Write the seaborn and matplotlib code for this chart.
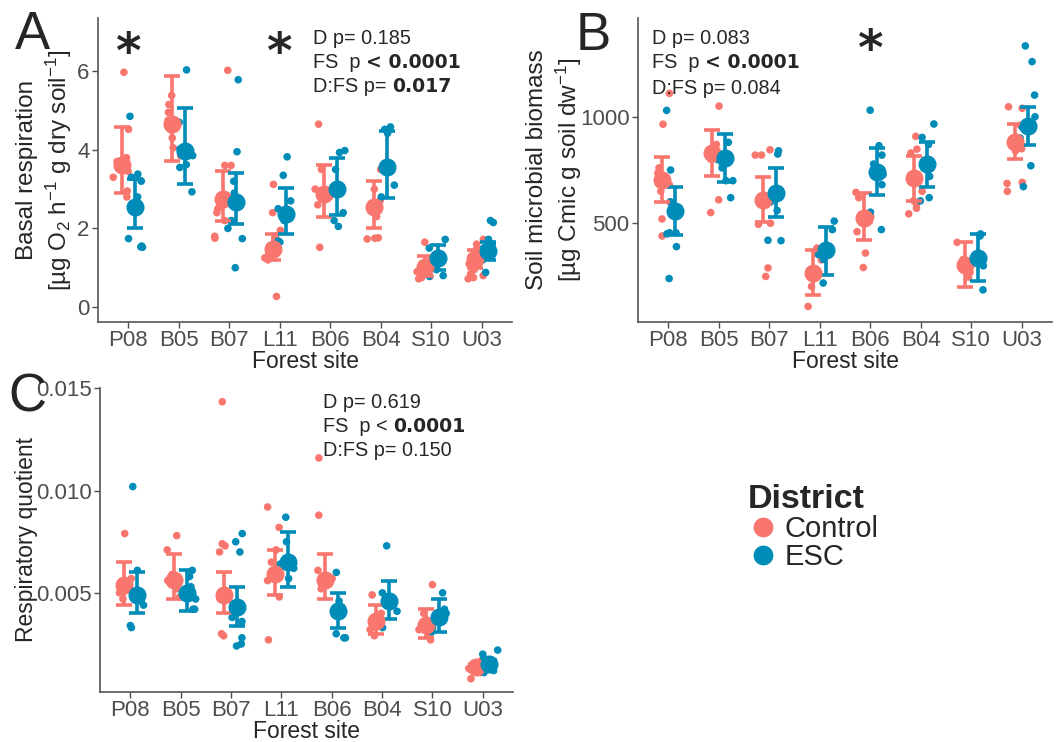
import matplotlib.pyplot as plt
import numpy as np
import pandas as pd
import seaborn as sns
from matplotlib.ticker import FormatStrFormatter


sites = ['P08', 'B05', 'B07', 'L11', 'B06', 'B04', 'S10', 'U03']
districts = ['Control', 'ESC']
palette = {'Control': '#F8766D', 'ESC': '#008CB8'}

# panel A - basal respiration, single samples per site
basal_control = [
    [5.97, 4.52, 3.8, 3.7, 3.55, 3.45, 3.3, 2.95, 2.8],
    [5.38, 5.15, 4.95, 4.75, 4.5, 4.3, 4.05, 3.85],
    [6.02, 3.6, 3.6, 2.5, 2.4, 2.2, 1.75, 1.8],
    [3.12, 2.4, 1.95, 1.8, 1.6, 1.45, 1.38, 1.25, 1.2, 0.27],
    [4.65, 3.5, 3.0, 2.8, 2.6, 1.52],
    [3.5, 3.0, 2.7, 2.3, 1.76, 1.73, 1.75],
    [1.65, 1.2, 1.1, 1.0, 0.9, 0.85, 0.75, 0.72, 0.78, 0.82],
    [1.72, 1.6, 1.5, 1.35, 1.2, 1.1, 0.95, 0.85, 0.75, 0.72, 0.8],
]
basal_esc = [
    [4.85, 3.38, 3.3, 3.2, 2.8, 1.74, 1.53, 1.52, 1.55],
    [6.03, 4.7, 4.02, 3.85, 3.62, 3.55, 2.93],
    [5.78, 3.95, 3.2, 2.9, 2.2, 2.0, 1.74, 1.0],
    [3.82, 3.35, 2.7, 2.5, 2.2, 1.68, 1.65],
    [3.98, 3.93, 3.5, 3.05, 2.4, 2.2, 2.05],
    [4.58, 4.52, 4.42, 3.5, 3.1, 2.8],
    [1.72, 1.5, 1.3, 1.2, 1.1, 0.95, 0.8, 0.78],
    [2.2, 2.15, 1.72, 1.6, 1.5, 1.4, 1.3, 1.2, 0.88],
]
basal_control_mean = [3.62, 4.65, 2.75, 1.47, 2.88, 2.55, 1.03, 1.22]
basal_control_low = [2.9, 3.72, 2.2, 1.2, 2.28, 2.02, 0.8, 1.0]
basal_control_high = [4.57, 5.87, 3.47, 1.85, 3.6, 3.2, 1.3, 1.45]
basal_esc_mean = [2.55, 3.98, 2.67, 2.37, 3.0, 3.55, 1.25, 1.42]
basal_esc_low = [2.0, 3.13, 2.1, 1.85, 2.35, 2.78, 0.95, 1.2]
basal_esc_high = [3.25, 5.05, 3.4, 3.03, 3.8, 4.48, 1.58, 1.65]

# panel B - soil microbial biomass
biomass_control = [
    [1110, 965, 760, 735, 680, 650, 600, 520, 440],
    [1050, 870, 830, 800, 610, 550],
    [845, 820, 820, 600, 500, 495, 290, 250],
    [383, 360, 328, 250, 203, 109],
    [645, 620, 530, 510, 460, 360, 292],
    [908, 848, 830, 650, 606, 590, 570, 544],
    [410, 330, 300, 270, 247],
    [1047, 1040, 960, 850, 840, 692, 650, 687],
]
biomass_esc = [
    [1030, 750, 600, 455, 455, 450, 390, 240],
    [880, 800, 760, 700, 700, 620],
    [840, 825, 600, 560, 420, 418],
    [510, 470, 352, 330, 219],
    [1031, 864, 820, 778, 728, 681, 552, 470],
    [966, 903, 870, 720, 620, 605],
    [450, 440, 300, 187],
    [1333, 1259, 1102, 1000, 950, 900, 770, 672],
]
biomass_control_mean = [703, 828, 609, 266, 523, 711, 305, 880]
biomass_control_low = [598, 722, 505, 161, 419, 606, 200, 802]
biomass_control_high = [812, 937, 716, 372, 642, 817, 411, 966]
biomass_esc_mean = [559, 806, 641, 372, 739, 778, 336, 955]
biomass_esc_low = [447, 692, 531, 255, 633, 669, 228, 869]
biomass_esc_high = [672, 919, 759, 484, 853, 883, 450, 1044]

# panel C - respiratory quotient
quotient_control = [
    [0.0079, 0.0057, 0.0055, 0.005, 0.0047],
    [0.0078, 0.0071, 0.0059, 0.0056, 0.0052, 0.0048],
    [0.01435, 0.0074, 0.0073, 0.0070, 0.0047, 0.0030, 0.0029],
    [0.0092, 0.0082, 0.0071, 0.0065, 0.0056, 0.0048, 0.0027],
    [0.0116, 0.0088, 0.0061, 0.0057, 0.0052],
    [0.0049, 0.0040, 0.0035, 0.0032, 0.0029],
    [0.0054, 0.0040, 0.0035, 0.0032, 0.0029, 0.0027],
    [0.0017, 0.0015, 0.0014, 0.0013, 0.0012, 0.0011, 0.0008],
]
quotient_esc = [
    [0.0102, 0.0061, 0.0046, 0.0044, 0.0034, 0.0033],
    [0.0061, 0.0058, 0.0053, 0.0047, 0.0042, 0.0042],
    [0.0079, 0.0075, 0.0070, 0.0038, 0.0036, 0.0028, 0.0025, 0.0024],
    [0.0087, 0.0075, 0.0064, 0.0062, 0.0057],
    [0.0060, 0.0046, 0.0043, 0.0030, 0.0028, 0.0028],
    [0.0073, 0.0050, 0.0047, 0.0041, 0.0033],
    [0.0050, 0.0042, 0.0040, 0.0033, 0.0031],
    [0.0022, 0.0020, 0.0018, 0.0016, 0.0014, 0.0012, 0.0011],
]
quotient_control_mean = [0.00536, 0.00565, 0.0049, 0.0059, 0.00565, 0.0036, 0.00345, 0.00137]
quotient_control_low = [0.0044, 0.0047, 0.0040, 0.0049, 0.0047, 0.0030, 0.0028, 0.0012]
quotient_control_high = [0.0065, 0.0069, 0.0060, 0.0071, 0.0069, 0.0044, 0.0042, 0.0015]
quotient_esc_mean = [0.0049, 0.0050, 0.0043, 0.0065, 0.0041, 0.0046, 0.0038, 0.0015]
quotient_esc_low = [0.0040, 0.0041, 0.0034, 0.0053, 0.0033, 0.0037, 0.0031, 0.0012]
quotient_esc_high = [0.0060, 0.0061, 0.0053, 0.0080, 0.0050, 0.0056, 0.0047, 0.0017]


sns.set_style('white')
plt.rcParams['font.family'] = ['Liberation Sans', 'DejaVu Sans']
plt.rcParams['mathtext.fontset'] = 'custom'
plt.rcParams['mathtext.rm'] = 'Liberation Sans'
plt.rcParams['mathtext.it'] = 'Liberation Sans:italic'

GREY = '#4D4D4D'
DODGE = {'Control': -0.13, 'ESC': 0.13}
rng = np.random.default_rng(7)


def long_table(control, esc):
    rows = []
    for d, groups in zip(districts, [control, esc]):
        for i, vals in enumerate(groups):
            for v in vals:
                # jitter only moves the dot sideways, values are untouched
                x = i + DODGE[d] + rng.uniform(-0.17, 0.17)
                rows.append((sites[i], d, x, v))
    return pd.DataFrame(rows, columns=['site', 'district', 'xpos', 'value'])


def summary_table(c_mean, c_low, c_high, e_mean, e_low, e_high):
    rows = []
    for d, m, lo, hi in [('Control', c_mean, c_low, c_high), ('ESC', e_mean, e_low, e_high)]:
        for i in range(len(sites)):
            rows.append((sites[i], d, i + DODGE[d], m[i], lo[i], hi[i]))
    return pd.DataFrame(rows, columns=['site', 'district', 'xpos', 'mean', 'low', 'high'])


def draw_panel(ax, points, summ, ylim, yticks, ylabel, label_x, ylab_size=17.5, legend=False):
    sns.scatterplot(data=points, x='xpos', y='value', hue='district', hue_order=districts,
                    palette=palette, s=30, linewidth=0, ax=ax, legend=legend, zorder=2)
    for d in districts:
        sub = summ[summ['district'] == d]
        ax.errorbar(sub['xpos'], sub['mean'],
                    yerr=[sub['mean'] - sub['low'], sub['high'] - sub['mean']],
                    fmt='o', color=palette[d], ms=12, elinewidth=2.6,
                    capsize=6, capthick=2.6, zorder=3)
    ax.set_xlim(-0.6, 7.6)
    ax.set_ylim(*ylim)
    ax.set_xticks(range(len(sites)))
    ax.set_xticklabels(sites)
    ax.set_yticks(yticks)
    ax.set_xlabel('Forest site', fontsize=16.5, labelpad=-1)
    ax.set_ylabel(ylabel, fontsize=ylab_size, linespacing=1.25)
    ax.yaxis.set_label_coords(label_x, 0.5)
    ax.tick_params(axis='both', labelsize=16, labelcolor=GREY, color=GREY,
                   length=4, width=1, pad=2, bottom=True, left=True)
    sns.despine(ax=ax)
    for s in ['left', 'bottom']:
        ax.spines[s].set_color('#555555')
        ax.spines[s].set_linewidth(1.2)


def stats_lines(ax, x, ys, parts):
    # parts: list of (regular text, bold text); bold part follows the regular one
    fig = ax.figure
    for y, (reg, bold) in zip(ys, parts):
        t = fig.text(x, y, reg, fontsize=14.3, va='center', ha='left')
        if bold:
            ax.annotate(bold, xy=(1, 0), xycoords=t, va='bottom', ha='left',
                        fontsize=13.6, fontweight='bold', family='DejaVu Sans',
                        annotation_clip=False)


W, H = 1057, 742
fig = plt.figure(figsize=(W / 100, H / 100), dpi=100)
axA = fig.add_axes([98 / W, 1 - 322 / H, 414 / W, 304 / H])
axB = fig.add_axes([638 / W, 1 - 322 / H, 414 / W, 304 / H])
axC = fig.add_axes([100 / W, 1 - 692 / H, 413 / W, 304 / H])

draw_panel(axA, long_table(basal_control, basal_esc),
           summary_table(basal_control_mean, basal_control_low, basal_control_high,
                         basal_esc_mean, basal_esc_low, basal_esc_high),
           (-0.38, 7.35), [0, 2, 4, 6],
           'Basal respiration\n[µg O$_2$ h$^{-1}$ g dry soil$^{-1}$]', -0.057, legend=True)
draw_panel(axB, long_table(biomass_control, biomass_esc),
           summary_table(biomass_control_mean, biomass_control_low, biomass_control_high,
                         biomass_esc_mean, biomass_esc_low, biomass_esc_high),
           (36, 1464), [500, 1000],
           'Soil microbial biomass\n[µg Cmic g soil dw$^{-1}$]', -0.13)
draw_panel(axC, long_table(quotient_control, quotient_esc),
           summary_table(quotient_control_mean, quotient_control_low, quotient_control_high,
                         quotient_esc_mean, quotient_esc_low, quotient_esc_high),
           (0.00015, 0.01502), [0.005, 0.010, 0.015],
           'Respiratory quotient', -0.15, ylab_size=16.5)
axC.yaxis.set_major_formatter(FormatStrFormatter('%.3f'))

# legend built from the seaborn handles of panel A
handles, labels = axA.get_legend_handles_labels()
axA.get_legend().remove()
leg = fig.legend(handles, labels, title='District', loc='upper left',
                 bbox_to_anchor=(748 / W, 1 - 484 / H), frameon=False,
                 fontsize=21, markerscale=2.6, handlelength=1.0, handletextpad=0.25,
                 labelspacing=0.0, borderaxespad=0, borderpad=0, alignment='left',
                 title_fontproperties={'weight': 'bold', 'size': 24.5})

# significance stars
star = dict(fontsize=35, fontweight='bold', family='DejaVu Sans', ha='center', va='baseline')
axA.text(0, 6.08, '*', **star)
axA.text(3, 6.08, '*', **star)
axB.text(4, 1243, '*', **star)

# panel letters
fig.text(15 / W, 1 - 49 / H, 'A', fontsize=38, va='baseline')
fig.text(576 / W, 1 - 50 / H, 'B', fontsize=38, va='baseline')
fig.text(8 / W, 1 - 412 / H, 'C', fontsize=38, va='baseline')

# model p-values
stats_lines(axA, 313 / W, [1 - 38 / H, 1 - 62 / H, 1 - 87 / H],
            [('D p= 0.185', None), ('FS  p ', '< 0.0001'), ('D:FS p= ', '0.017')])
stats_lines(axB, 652 / W, [1 - 38 / H, 1 - 62 / H, 1 - 88 / H],
            [('D p= 0.083', None), ('FS  p ', '< 0.0001'), ('D:FS p= 0.084', None)])
stats_lines(axC, 323 / W, [1 - 402 / H, 1 - 427 / H, 1 - 451 / H],
            [('D p= 0.619', None), ('FS  p < ', '0.0001'), ('D:FS p= 0.150', None)])

fig.savefig('out.png', dpi=100)
